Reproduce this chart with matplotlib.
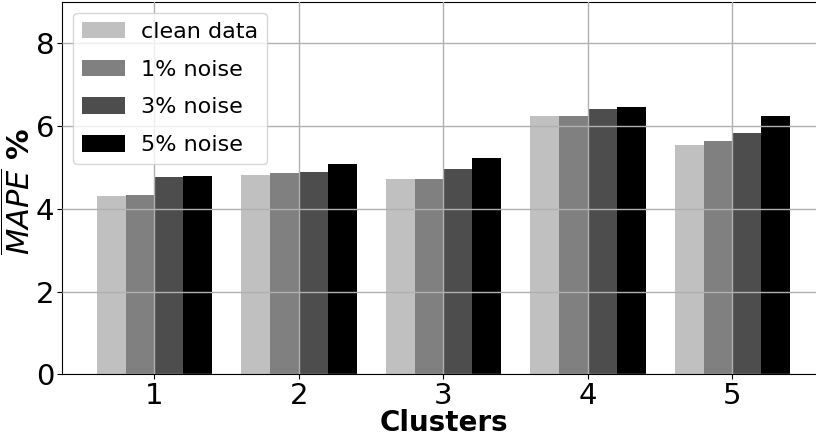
import matplotlib
matplotlib.use("Agg")
import matplotlib.pyplot as plt
import numpy as np

# cluster ids and mean MAPE per noise level
clusters = [1, 2, 3, 4, 5]
clean = [4.30, 4.81, 4.71, 6.25, 5.55]
noise1 = [4.33, 4.86, 4.71, 6.25, 5.63]
noise3 = [4.76, 4.90, 4.95, 6.40, 5.82]
noise5 = [4.78, 5.07, 5.22, 6.47, 6.23]

labels = ['clean data', '1% noise', '3% noise', '5% noise']
colors = ['#c0c0c0', '#808080', '#4d4d4d', '#000000']

plt.rcParams['font.family'] = ['DejaVu Sans']

fig = plt.figure(figsize=(8.16, 4.42), dpi=100)
ax = fig.add_axes([0.076, 0.153, 0.935, 0.843])

x = np.array(clusters)
w = 0.2
series = [clean, noise1, noise3, noise5]
for i, vals in enumerate(series):
    ax.bar(x + (i - 1.5) * w, vals, w, color=colors[i], label=labels[i], zorder=1)

# grid drawn over the bars like in the original
ax.set_axisbelow(False)
ax.grid(True, color='#b0b0b0', linewidth=1, zorder=2)
ax.set_xlim(0.36, 5.64)
ax.set_ylim(0, 9)
ax.set_xticks(clusters)
ax.set_yticks([0, 2, 4, 6, 8])
ax.tick_params(labelsize=21, pad=2)
ax.spines['right'].set_visible(False)

ax.set_xlabel('Clusters', fontsize=20, fontweight='bold')
ax.xaxis.set_label_coords(0.5, -0.092)
ax.set_ylabel(r'$\overline{MAPE}$ %', fontsize=22, fontweight='bold')
ax.yaxis.set_label_coords(-0.033, 0.49)

ax.legend(loc='upper left', fontsize=16, handlelength=1.95, handleheight=0.77,
          handletextpad=0.72, borderpad=0.4, labelspacing=0.8,
          borderaxespad=0.5)

fig.savefig('out.png', dpi=100)
